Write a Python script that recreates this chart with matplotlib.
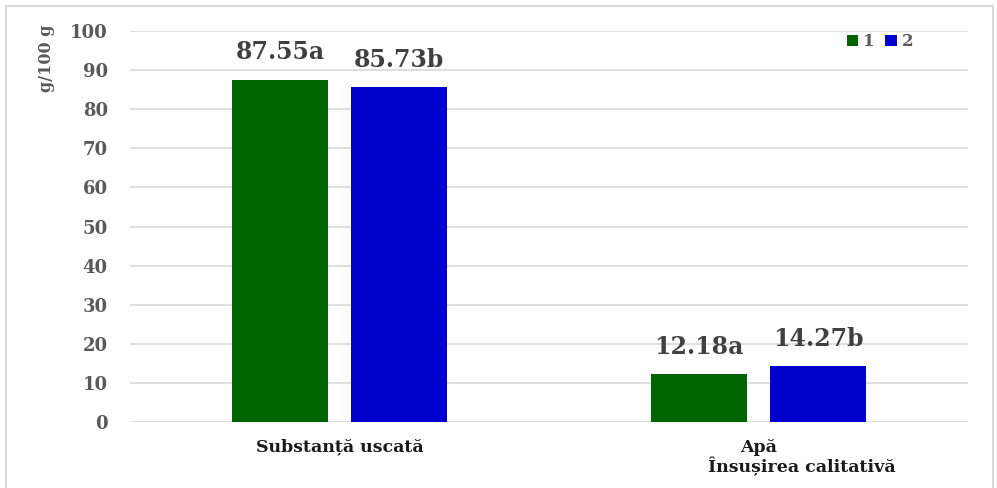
import matplotlib.pyplot as plt
from matplotlib.patches import Rectangle
import numpy as np

plt.rcParams['font.family'] = ['DejaVu Serif']
plt.rcParams['font.weight'] = 'bold'
plt.rcParams['axes.labelweight'] = 'bold'

# Values per category for the two variants
categories = ['Substanță uscată', 'Apă']
series_1 = [87.55, 12.18]
series_2 = [85.73, 14.27]
letters_1 = ['a', 'a']
letters_2 = ['b', 'b']
yticks = [0, 10, 20, 30, 40, 50, 60, 70, 80, 90, 100]

green = '#006400'
blue = '#0000cd'

fig = plt.figure(figsize=(9.97, 4.88), dpi=100)
ax = fig.add_axes([130 / 997, 66 / 488, 838 / 997, 391 / 488])

x = np.arange(len(categories))
w = 0.229
off = 0.142
b1 = ax.bar(x - off, series_1, w, color=green, label='1', zorder=3)
b2 = ax.bar(x + off, series_2, w, color=blue, label='2', zorder=3)

# value labels with significance letters
for bars, vals, lets in [(b1, series_1, letters_1), (b2, series_2, letters_2)]:
    for rect, v, l in zip(bars, vals, lets):
        ax.annotate(f'{v:.2f}{l}', (rect.get_x() + rect.get_width() / 2, v),
                    xytext=(0, 11), textcoords='offset points',
                    ha='center', va='bottom', fontsize=17,
                    fontweight='bold', color='#404040')

ax.set_xlim(-0.5, 1.5)
ax.set_ylim(0, 100)
ax.set_yticks(yticks)
ax.grid(axis='y', color='#d9d9d9', linewidth=1.2, zorder=0)
ax.set_xticks(x)
ax.set_xticklabels(categories, fontsize=12.5, color='#1a1a1a')
ax.tick_params(axis='x', length=0, pad=12)
ax.tick_params(axis='y', length=0, labelsize=13, labelcolor='#595959', pad=16)
for s in ax.spines.values():
    s.set_visible(False)

ax.set_ylabel('g/100 g', fontsize=11.5, color='#595959', fontweight='bold')
ax.yaxis.set_label_coords(-0.089, 0.93)

fig.text(802 / 997, (488 - 467) / 488, 'Însușirea calitativă', ha='center',
         va='center', fontsize=12.5, color='#1a1a1a', fontweight='bold')

ax.legend(loc='center', bbox_to_anchor=(0.895, 0.972), ncol=2, frameon=False,
          handlelength=0.7, handleheight=0.7, handletextpad=0.3,
          columnspacing=0.6, fontsize=12, labelcolor='#595959')

# light border around the chart
fig.patches.append(Rectangle((6 / 997, -0.1), 987 / 997, 1.1 - 6 / 488,
                             transform=fig.transFigure, fill=False,
                             edgecolor='#d9d9d9', linewidth=1.5))

fig.savefig('out.png', dpi=100)
